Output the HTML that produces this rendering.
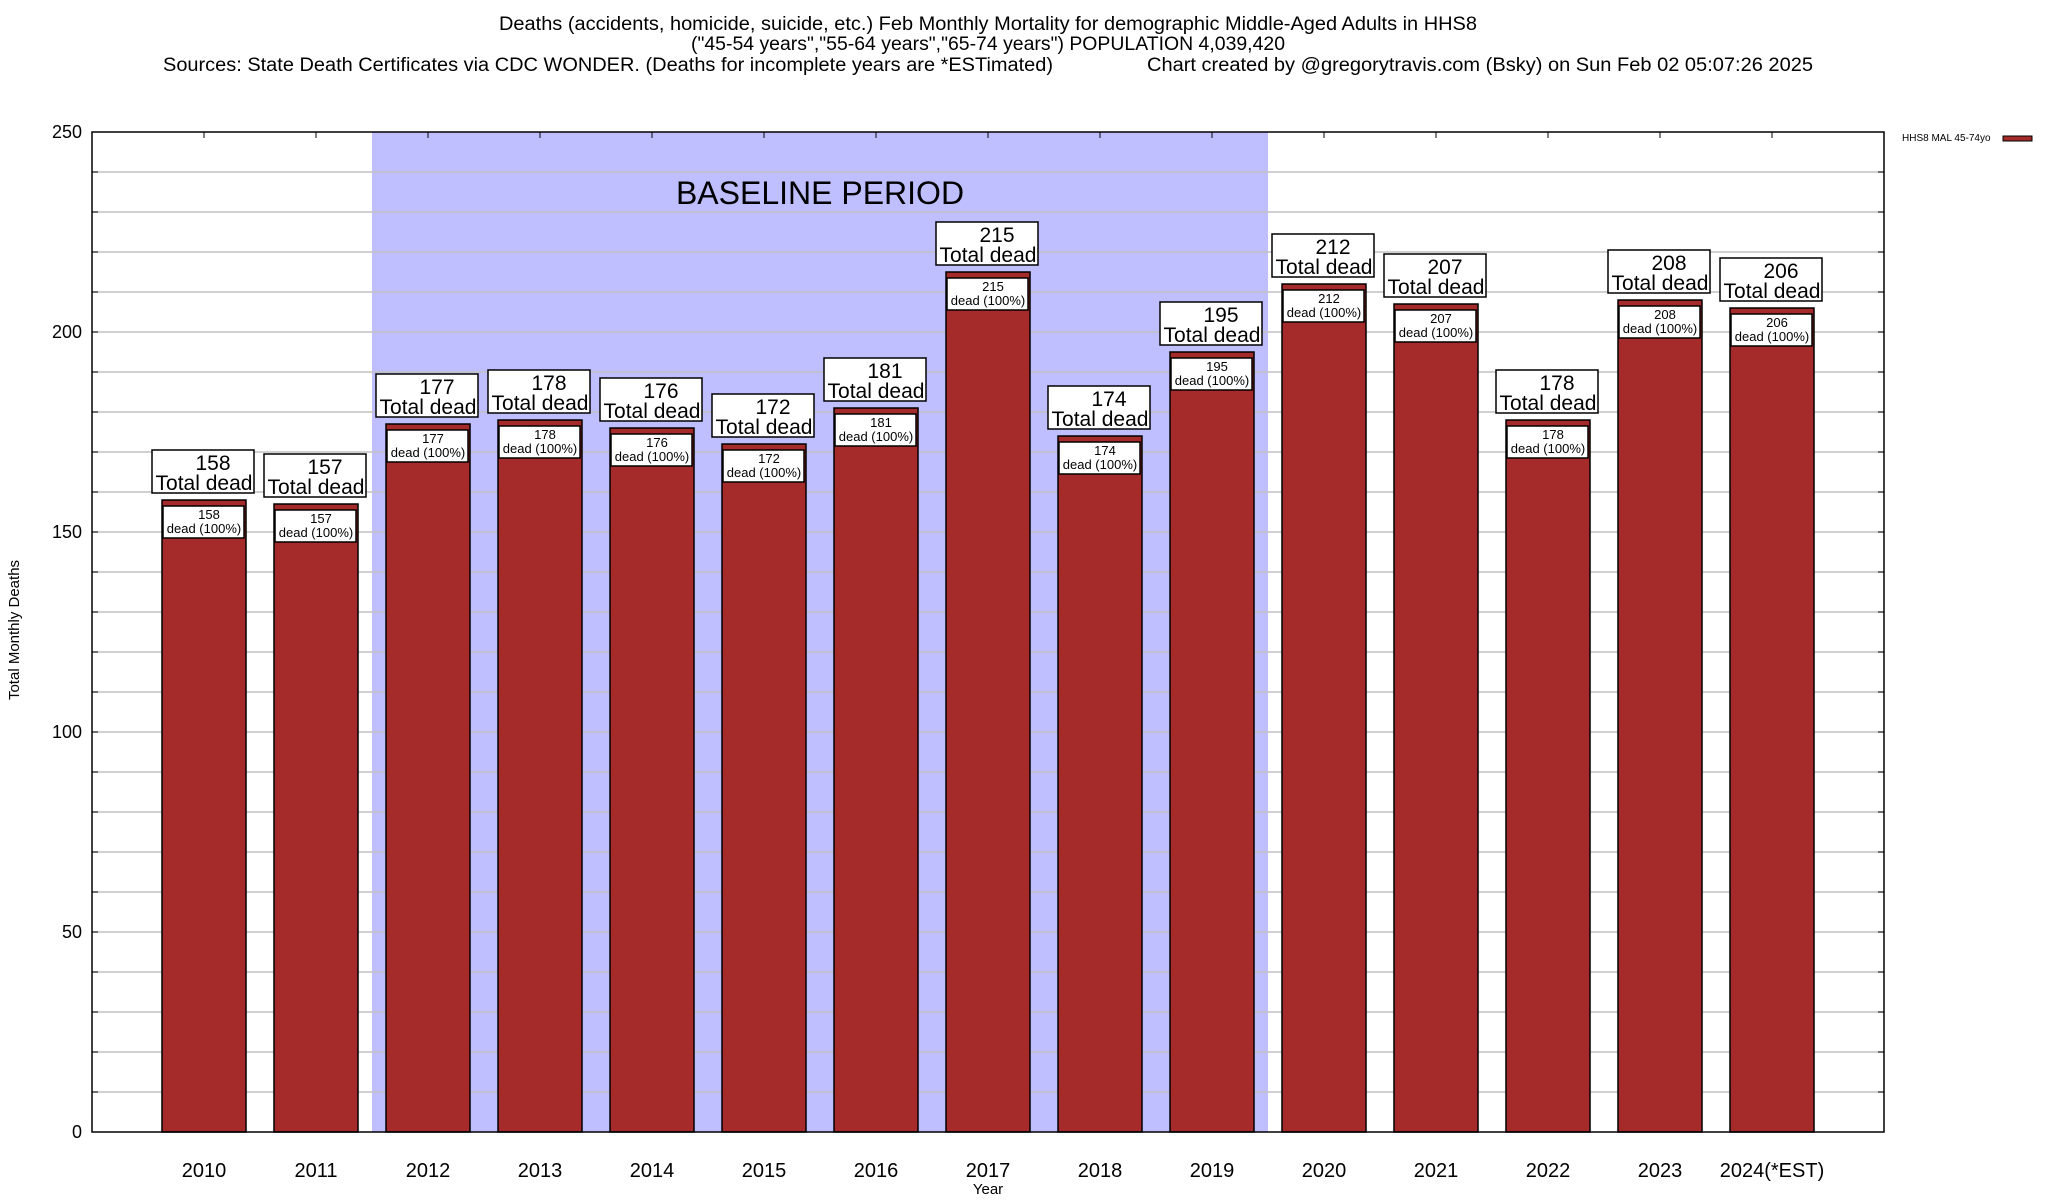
<!DOCTYPE html>
<html><head><meta charset="utf-8">
<style>
html,body{margin:0;padding:0;background:#fff;}
svg{display:block;font-family:"Liberation Sans",sans-serif;}
</style></head>
<body>
<svg id="chart" width="2048" height="1200" viewBox="0 0 2048 1200" xmlns="http://www.w3.org/2000/svg">
<g font-size="19" fill="#000">
<text x="988" y="30" text-anchor="middle" textLength="978" lengthAdjust="spacingAndGlyphs">Deaths (accidents, homicide, suicide, etc.) Feb Monthly Mortality for demographic Middle-Aged Adults in HHS8</text>
<text x="988" y="50" text-anchor="middle" textLength="594" lengthAdjust="spacingAndGlyphs">("45-54 years","55-64 years","65-74 years") POPULATION 4,039,420</text>
<text x="163" y="71" textLength="890" lengthAdjust="spacingAndGlyphs">Sources: State Death Certificates via CDC WONDER. (Deaths for incomplete years are *ESTimated)</text>
<text x="1147" y="71" textLength="666" lengthAdjust="spacingAndGlyphs">Chart created by @gregorytravis.com (Bsky) on Sun Feb 02 05:07:26 2025</text>
</g>
<g id="plot"></g>
</svg>
<script>
const categories = ["2010","2011","2012","2013","2014","2015","2016","2017","2018","2019","2020","2021","2022","2023","2024(*EST)"];
const values = [158,157,177,178,176,172,181,215,174,195,212,207,178,208,206];
const yTicks = [0,50,100,150,200,250];
const baselineStart = 2, baselineEnd = 9;

const L=92,R=1884,T=132,B=1132,ymax=250;
const xs = i => L + (i+1)*(R-L)/16;
const ys = v => B - v*(B-T)/ymax;
const NS="http://www.w3.org/2000/svg";
const g=document.getElementById('plot');
function mk(tag,attrs,parent){const e=document.createElementNS(NS,tag);for(const k in attrs)e.setAttribute(k,attrs[k]);(parent||g).appendChild(e);return e;}

// baseline shading
const sh=mk('rect',{x:xs(baselineStart-0.5),y:T,width:xs(baselineEnd+0.5)-xs(baselineStart-0.5),height:B-T,fill:'#bfbfff'});


// grid
for(let v=10;v<ymax;v+=10){
  const ln=mk('line',{x1:L,x2:R,y1:ys(v),y2:ys(v),stroke:'#c0c0c0','stroke-width':1.5});
  
  
  mk('line',{x1:L,x2:L+6,y1:ys(v),y2:ys(v),stroke:'#000','stroke-width':1});
  mk('line',{x1:R-6,x2:R,y1:ys(v),y2:ys(v),stroke:'#000','stroke-width':1});
}
const bt=mk('text',{x:820,y:204,'font-size':32,'text-anchor':'middle'});
bt.textContent='BASELINE PERIOD';



yTicks.forEach(v=>{
  const t=mk('text',{x:82,y:ys(v)+6,'font-size':18,'text-anchor':'end'});
  t.textContent=v;
  
  
});

categories.forEach((c,i)=>{
  const cx=xs(i), v=values[i], top=ys(v);
  const bar=mk('rect',{x:cx-42,y:top,width:84,height:B-top,fill:'#a52a2a',stroke:'#000','stroke-width':1.5});
  
  
  // inner label
  const ib=mk('rect',{x:cx-41,y:top+6,width:81,height:32,fill:'#fff',stroke:'#000','stroke-width':1.5});
  
  
  const t1=mk('text',{x:cx+5,y:top+19,'font-size':13,'text-anchor':'middle'});t1.textContent=v;
  const t2=mk('text',{x:cx,y:top+33,'font-size':13,'text-anchor':'middle'});t2.textContent='dead (100%)';
  // outer label
  const ob=mk('rect',{x:cx-52,y:top-50,width:102,height:43,fill:'#fff',stroke:'#000','stroke-width':1.5});
  
  
  const t3=mk('text',{x:cx+9,y:top-30,'font-size':21,'text-anchor':'middle'});t3.textContent=v;
  const t4=mk('text',{x:cx,y:top-10,'font-size':21,'text-anchor':'middle'});t4.textContent='Total dead';
  const xl=mk('text',{x:cx,y:1177,'font-size':20,'text-anchor':'middle'});xl.textContent=c;
  
  
  mk('line',{x1:cx,x2:cx,y1:T,y2:T+6,stroke:'#000','stroke-width':1});
});

const fr=mk('rect',{x:L,y:T,width:R-L,height:B-T,fill:'none',stroke:'#000','stroke-width':1.5});



const yl=mk('text',{x:0,y:0,'font-size':15,'text-anchor':'middle',transform:'translate(19,630) rotate(-90)'});
yl.textContent='Total Monthly Deaths';


const xt=mk('text',{x:988,y:1194,'font-size':15,'text-anchor':'middle'});
xt.textContent='Year';



const lg=mk('text',{x:1902,y:141,'font-size':10});
lg.textContent='HHS8 MAL 45-74yo';


const lsw=mk('rect',{x:2003,y:136,width:29,height:5,fill:'#a52a2a',stroke:'#000','stroke-width':1});


</script>
</body></html>
